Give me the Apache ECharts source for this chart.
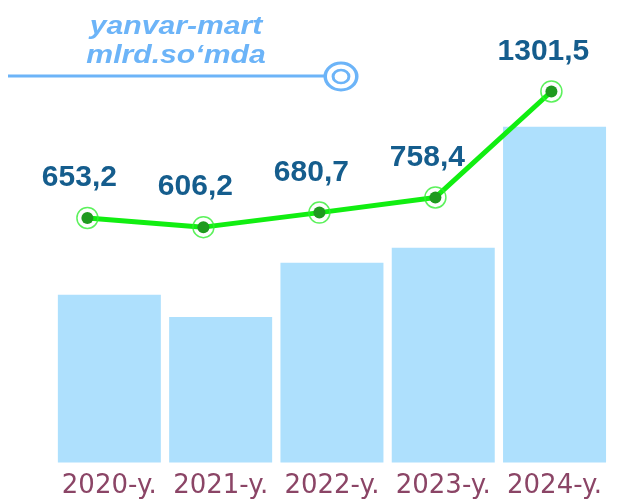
<!DOCTYPE html>
<html>
<head>
<meta charset="utf-8">
<script src="https://cdn.jsdelivr.net/npm/echarts@6/dist/echarts.min.js"></script>
<style>
  html, body { margin: 0; padding: 0; background: #ffffff; }
  #chart { width: 620px; height: 502px; }
</style>
</head>
<body>
<div id="chart"></div>
<script>
// Yearly totals, January–March, billion so'm
const years = ['2020-y.', '2021-y.', '2022-y.', '2023-y.', '2024-y.'];
const lineValues = [653.2, 606.2, 680.7, 758.4, 1301.5];
const barValues = [650, 564, 774, 832, 1301];
const titleLines = ['yanvar-mart', 'mlrd.so‘mda'];

const fmt = v => v.toFixed(1).replace('.', ',');
const accent = '#6cb4f8';

const chart = echarts.init(document.getElementById('chart'), null, { renderer: 'canvas' });

chart.setOption({
  animation: false,
  backgroundColor: '#ffffff',
  grid: [
    { left: 53.7, right: 9.8, top: 62.5, bottom: 39.5 },
    { left: 87.4, right: 68.6, top: 62.5, bottom: 39.5 }
  ],
  xAxis: [
    {
      type: 'category', gridIndex: 0, data: years, boundaryGap: true,
      axisLine: { show: false }, axisTick: { show: false },
      axisLabel: {
        color: '#8b4566', fontSize: 26, fontFamily: 'DejaVu Sans',
        margin: 11, interval: 0
      }
    },
    {
      type: 'category', gridIndex: 1, data: years, boundaryGap: false, show: false
    }
  ],
  yAxis: [
    { type: 'value', gridIndex: 0, min: 0, max: 1550, show: false, splitLine: { show: false } },
    { type: 'value', gridIndex: 1, min: -600, max: 1450, show: false, splitLine: { show: false } }
  ],
  series: [
    {
      type: 'bar', xAxisIndex: 0, yAxisIndex: 0,
      data: barValues, barWidth: 103,
      itemStyle: { color: '#aee0fd' }, z: 1
    },
    {
      type: 'line', xAxisIndex: 1, yAxisIndex: 1,
      data: lineValues,
      symbol: 'circle', symbolSize: 12,
      lineStyle: { color: '#11ee11', width: 5 },
      itemStyle: { color: '#1f9a1f' },
      label: {
        show: true, position: 'top', distance: 19, offset: [-8, 0],
        formatter: p => fmt(p.value),
        color: '#155d8d', fontSize: 30, fontWeight: 'bold',
        fontFamily: 'Liberation Sans, Arial, sans-serif'
      },
      z: 3
    },
    {
      type: 'scatter', xAxisIndex: 1, yAxisIndex: 1,
      data: lineValues,
      symbol: 'circle', symbolSize: 21,
      itemStyle: { color: 'rgba(0,0,0,0)', borderColor: '#33ee33', borderWidth: 1.5 },
      silent: true, z: 4
    }
  ],
  graphic: [
    {
      type: 'line', shape: { x1: 8, y1: 76, x2: 324, y2: 76 },
      style: { stroke: accent, lineWidth: 3 }
    },
    {
      type: 'circle', x: 341, y: 76.5, scaleX: 1.17,
      shape: { cx: 0, cy: 0, r: 13.5 },
      style: { fill: '#ffffff', stroke: accent, lineWidth: 3 }
    },
    {
      type: 'circle', x: 341, y: 76.5, scaleX: 1.2,
      shape: { cx: 0, cy: 0, r: 6.6 },
      style: { fill: 'none', stroke: accent, lineWidth: 2.5 }
    },
    {
      type: 'text', x: 176, y: 27, scaleX: 1.16,
      style: {
        text: titleLines[0], fill: accent, align: 'center', verticalAlign: 'middle',
        font: 'italic bold 26px "Liberation Sans", Arial, sans-serif'
      }
    },
    {
      type: 'text', x: 176, y: 56, scaleX: 1.16,
      style: {
        text: titleLines[1], fill: accent, align: 'center', verticalAlign: 'middle',
        font: 'italic bold 26px "Liberation Sans", Arial, sans-serif'
      }
    }
  ]
});
</script>
</body>
</html>
